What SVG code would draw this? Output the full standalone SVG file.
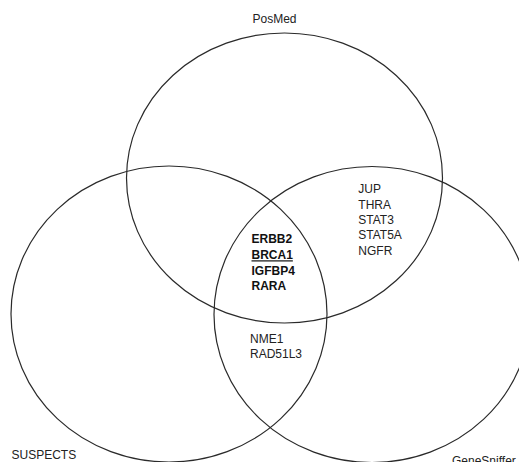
<svg xmlns="http://www.w3.org/2000/svg" width="519" height="462" viewBox="0 0 519 462">
  <style>
    .set { fill: none; stroke: #2a2a2a; stroke-width: 1.2; }
    .lbl { font-family: "Liberation Sans", Arial, sans-serif; font-size: 12px; fill: #222; }
    .gene { font-family: "Liberation Sans", Arial, sans-serif; font-size: 12px; fill: #222; }
    .core { font-family: "Liberation Sans", Arial, sans-serif; font-size: 12px; font-weight: bold; fill: #111; }
  </style>
  <rect width="519" height="462" fill="#ffffff"/>

  <!-- Three overlapping sets -->
  <g id="posmed">
    <ellipse class="set" cx="284.5" cy="178" rx="158" ry="145"/>
    <text class="lbl" x="252.5" y="23.3">PosMed</text>
  </g>
  <g id="suspects">
    <ellipse class="set" cx="169" cy="314" rx="158" ry="148"/>
    <text class="lbl" x="11.5" y="459.3">SUSPECTS</text>
  </g>
  <g id="genesniffer">
    <ellipse class="set" cx="372" cy="314.5" rx="158" ry="148"/>
    <text class="lbl" x="452" y="464.5">GeneSniffer</text>
  </g>

  <!-- PosMed ∩ GeneSniffer -->
  <g id="posmed-genesniffer">
    <text class="gene" x="358.3" y="193.3">JUP</text>
    <text class="gene" x="358.3" y="208.5">THRA</text>
    <text class="gene" x="358.3" y="224">STAT3</text>
    <text class="gene" x="358.3" y="239.3">STAT5A</text>
    <text class="gene" x="358.3" y="254.5">NGFR</text>
  </g>

  <!-- All three sets -->
  <g id="all-three">
    <text class="core" x="251.5" y="243.3">ERBB2</text>
    <text class="core" x="251.5" y="259.3" text-decoration="underline">BRCA1</text>
    <text class="core" x="251.5" y="274.5">IGFBP4</text>
    <text class="core" x="251.5" y="289.5">RARA</text>
  </g>

  <!-- SUSPECTS ∩ GeneSniffer -->
  <g id="suspects-genesniffer">
    <text class="gene" x="250" y="342.5">NME1</text>
    <text class="gene" x="250" y="357.7">RAD51L3</text>
  </g>

  <g id="connectors"/>
</svg>
